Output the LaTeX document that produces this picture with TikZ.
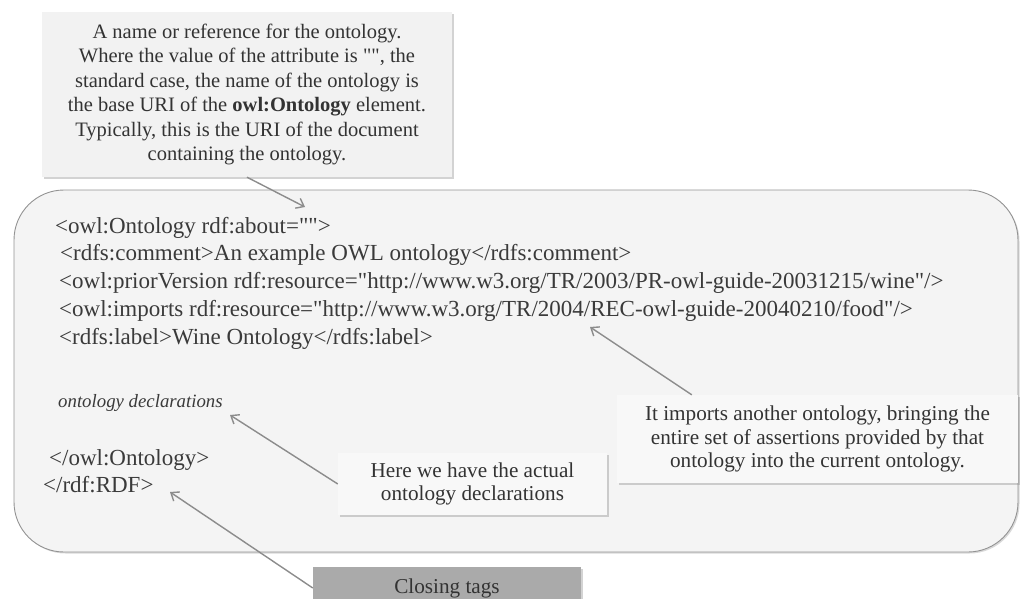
\documentclass[tikz,border=0pt]{standalone}
\usepackage{fontspec}
% a family without the TeX input mapping, so that " stays a straight quote
\newfontfamily\plainserif{Liberation Serif}
\setmainfont{Liberation Serif}
\usetikzlibrary{arrows.meta,shadows,calc}
\definecolor{txt}{HTML}{333333}
\definecolor{codetxt}{HTML}{3A3A3A}
\definecolor{panel}{HTML}{F4F4F4}
\definecolor{note}{HTML}{F2F2F2}
\definecolor{notelight}{HTML}{F8F8F8}
\definecolor{tagbox}{HTML}{AAAAAA}
\definecolor{pointer}{HTML}{8C8C8C}
\tikzset{
  notebox/.style={rectangle, inner sep=0pt, text=txt, align=center,
    font=\plainserif\fontsize{21.2}{23.5}\selectfont,
    drop shadow={opacity=0.35, shadow xshift=1.5pt, shadow yshift=-2pt}},
  codeline/.style={anchor=base west, inner sep=0pt, text=codetxt,
    font=\plainserif\fontsize{23}{26}\selectfont},
  pointerline/.style={draw=pointer, line width=1.4pt,
    -{Straight Barb[length=7pt,width=11pt,line width=1.4pt]}},
}
\begin{document}
\begin{tikzpicture}[x=1pt,y=-1pt]
\useasboundingbox (0,0) rectangle (1020,599);

% rounded panel holding the RDF/XML listing
\node[draw=gray!85, line width=0.9pt, fill=panel, rounded corners=50pt,
      minimum width=1004pt, minimum height=362pt, inner sep=0pt,
      drop shadow={opacity=0.3, shadow xshift=1.5pt, shadow yshift=-1.5pt}]
      (panel) at (516,371) {};

% listing lines
\node[codeline] (l1) at (55,233) {<owl:Ontology rdf:about="">};
\node[codeline] (l2) at (60,260) {<rdfs:comment>An example OWL ontology</rdfs:comment>};
\node[codeline] (l3) at (59,288) {<owl:priorVersion rdf:resource="http://www.w3.org/TR/2003/PR-owl-guide-20031215/wine"/>};
\node[codeline] (l4) at (59,316) {<owl:imports rdf:resource="http://www.w3.org/TR/2004/REC-owl-guide-20040210/food"/>};
\node[codeline] (l5) at (59,344) {<rdfs:label>Wine Ontology</rdfs:label>};
\node[codeline, font=\plainserif\fontsize{18.8}{22}\itshape] (decl) at (58,407) {ontology declarations};
\node[codeline] (l7) at (49,465) {</owl:Ontology>};
\node[codeline] (l8) at (43,492) {</rdf:RDF>};

% explanatory notes
\node[notebox, fill=note, minimum width=410pt, minimum height=165pt,
      font=\plainserif\fontsize{20.5}{24.4}\selectfont]
  (about) at (247,94.5) {A name or reference for the ontology.\\
  Where the value of the attribute is "", the\\
  standard case, the name of the ontology is\\
  the base URI of the \textbf{owl:Ontology} element.\\
  Typically, this is the URI of the document\\
  containing the ontology.};

\node[notebox, fill=notelight, minimum width=401pt, minimum height=88pt]
  (imports) at (817.5,439) {It imports another ontology, bringing the\\
  entire set of assertions provided by that\\
  ontology into the current ontology.};

\node[notebox, fill=notelight, minimum width=269pt, minimum height=62pt]
  (actual) at (472.5,484) {Here we have the actual\\ ontology declarations};

\node[notebox, fill=tagbox, minimum width=268pt, minimum height=42pt]
  (closing) at (447,588) {Closing tags};

% pointer tips
\coordinate (tipAbout) at (305,207);
\coordinate (tipImports) at (590,327);
\coordinate (tipDecl) at (230,415);
\coordinate (tipClose) at (170,492);

% pointers
\draw[pointerline] (about.south) -- (tipAbout);
\draw[pointerline] ($(imports.north west)+(75,0)$) -- (tipImports);
\draw[pointerline] (actual.west) -- (tipDecl);
\draw[pointerline] (closing.west) -- (tipClose);
\end{tikzpicture}
\end{document}
